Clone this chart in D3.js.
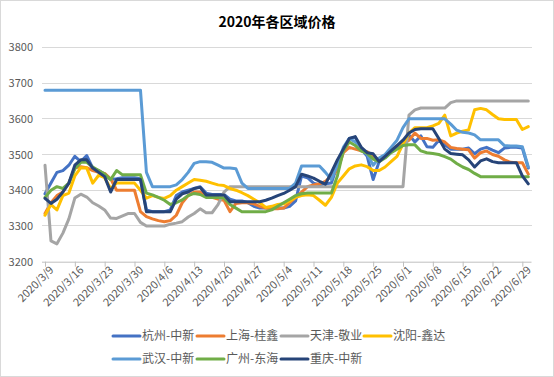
<!DOCTYPE html>
<html><head><meta charset="utf-8">
<script src="https://cdn.jsdelivr.net/npm/d3@7"></script>
<style>
html,body{margin:0;padding:0;background:#fff;}
svg{display:block;font-family:"Noto Sans CJK SC","Noto Sans",sans-serif;}
</style></head>
<body><svg id="c" width="554" height="377"></svg>
<script>
// ---- data ----
const title = "2020年各区域价格";
const startDate = "2020-03-09", endDate = "2020-06-30"; // weekday categories
const yTicks = [3200, 3300, 3400, 3500, 3600, 3700, 3800];
const seriesNames = ["杭州-中新","上海-桂鑫","天津-敬业","沈阳-鑫达","武汉-中新","广州-东海","重庆-中新"];
const seriesColors = ["#4472C4","#ED7D31","#A5A5A5","#FFC000","#5B9BD5","#70AD47","#264478"];

const hangzhou = [3390,3420,3450,3455,3470, 3495,3480,3497,3462,3455, 3445,3430,3432,3435,3435,
  3435,3432,3345,3340,3340, 3340,3345,3385,3395,3400, 3405,3410,3392,3388,3388, 3388,3375,3370,3370,3365,
  3355,3350,3350,3350,3350, 3350,3355,3370,3440,3435, 3420,3415,3418,3420,3470, 3510,3545,3548,3515,3495,
  3430,3480,3495,3510,3520, 3525,3555,3535,3552,3522, 3520,3540,3527,3515,3515, 3515,3518,3502,3515,3520,
  3512,3505,3518,3520,3520, 3518,3462];
const shanghai = [3335,3365,3385,3395,3420, 3462,3466,3463,3455,3450, 3447,3432,3400,3400,3400,
  3400,3340,3326,3320,3315, 3312,3315,3330,3365,3385, 3395,3395,3385,3380,3375, 3372,3340,3363,3365,3365,
  3362,3355,3350,3348,3348, 3350,3365,3380,3395,3410, 3415,3418,3425,3440,3455, 3505,3520,3515,3510,3508,
  3495,3485,3495,3510,3525, 3530,3540,3560,3545,3545, 3540,3541,3535,3520,3517, 3515,3513,3490,3505,3510,
  3500,3495,3485,3478,3477, 3477,3445];
const tianjin = [3470,3258,3250,3280,3320, 3378,3389,3381,3365,3356, 3345,3322,3321,3328,3335,
  3335,3310,3300,3300,3300, 3300,3305,3308,3312,3325, 3335,3348,3337,3337,3360, 3395,3410,3410,3410,3410,
  3410,3410,3410,3410,3410, 3410,3410,3410,3410,3410, 3410,3410,3410,3410,3410, 3410,3410,3410,3410,3410,
  3410,3410,3410,3410,3410, 3410,3610,3625,3630,3630, 3630,3630,3630,3645,3650, 3650,3650,3650,3650,3650,
  3650,3650,3650,3650,3650, 3650,3650];
const shenyang = [3330,3360,3345,3385,3392, 3440,3463,3462,3420,3442, 3435,3405,3420,3420,3420,
  3420,3400,3378,3385,3380, 3377,3385,3400,3410,3420, 3430,3428,3425,3420,3415, 3413,3405,3400,3393,3385,
  3375,3365,3352,3355,3360, 3362,3370,3380,3385,3387, 3385,3372,3358,3380,3420, 3440,3460,3468,3471,3466,
  3455,3455,3465,3480,3495, 3530,3560,3575,3575,3575, 3580,3587,3610,3552,3560, 3565,3569,3625,3629,3625,
  3612,3600,3598,3598,3598, 3570,3578];
const wuhan = [3680,3680,3680,3680,3680, 3680,3680,3680,3680,3680, 3680,3680,3680,3680,3680,
  3680,3680,3450,3410,3410, 3410,3410,3415,3430,3450, 3475,3480,3480,3478,3470, 3462,3462,3460,3420,3405,
  3405,3405,3405,3405,3405, 3405,3405,3420,3468,3468, 3468,3468,3450,3430,3470, 3520,3545,3535,3520,3500,
  3470,3490,3500,3520,3540, 3575,3600,3600,3600,3600, 3600,3600,3600,3585,3568, 3562,3560,3555,3541,3541,
  3541,3541,3525,3524,3524, 3522,3465];
const guangzhou = [3380,3400,3410,3405,3420, 3460,3478,3478,3465,3455, 3445,3430,3455,3443,3443,
  3443,3443,3392,3387,3380, 3372,3360,3365,3373,3385, 3391,3388,3380,3380,3380, 3378,3360,3350,3340,3340,
  3340,3340,3340,3345,3355, 3365,3375,3385,3390,3392, 3392,3392,3392,3392,3440, 3510,3535,3525,3510,3503,
  3487,3480,3490,3505,3515, 3525,3527,3527,3510,3505, 3503,3500,3494,3487,3475, 3465,3458,3447,3438,3438,
  3438,3438,3438,3438,3438, 3438,3438];
const chongqing = [3377,3363,3375,3395,3420, 3470,3485,3485,3462,3450, 3438,3395,3430,3430,3430,
  3430,3430,3340,3340,3340, 3340,3340,3375,3390,3395, 3405,3408,3387,3387,3387, 3387,3368,3368,3368,3368,
  3368,3368,3372,3378,3385, 3391,3400,3410,3445,3440, 3434,3425,3417,3450,3485, 3515,3545,3550,3520,3505,
  3502,3480,3495,3510,3525, 3540,3560,3570,3572,3572, 3572,3545,3515,3503,3501, 3499,3485,3465,3482,3488,
  3480,3477,3477,3477,3477, 3440,3418];
const seriesValues = [hangzhou, shanghai, tianjin, shenyang, wuhan, guangzhou, chongqing];

// weekday categories
const categories = [];
{
  const d = new Date(startDate + "T00:00:00"), e = new Date(endDate + "T00:00:00");
  while (d <= e) {
    const wd = d.getDay();
    if (wd !== 0 && wd !== 6) categories.push(`${d.getFullYear()}/${d.getMonth()+1}/${d.getDate()}`);
    d.setDate(d.getDate() + 1);
  }
}
const labelEvery = 5;

// ---- chart ----
const svg = d3.select("#c");
svg.append("rect").attr("x",0.5).attr("y",0.5).attr("width",553).attr("height",376)
  .attr("fill","#fff").attr("stroke","#D9D9D9");

const x = d3.scalePoint().domain(categories).range([45, 528.3]);
const y = d3.scaleLinear().domain([3200, 3800]).range([261.7, 47.3]);
const plotL = 42, plotR = 531.5;

svg.append("text").attr("x", 277).attr("y", 27).attr("text-anchor","middle")
  .attr("font-size", 14).attr("font-weight","bold").attr("fill","#000").text(title);

// gridlines
svg.append("g").selectAll("line").data(yTicks.filter(t => t !== 3200)).join("line")
  .attr("x1", plotL).attr("x2", plotR).attr("y1", d => y(d)).attr("y2", d => y(d))
  .attr("stroke","#D9D9D9").attr("stroke-width",1).attr("shape-rendering","crispEdges");

// y axis labels
const yAxis = d3.axisLeft(y).tickValues(yTicks).tickSize(0).tickPadding(0).tickFormat(d3.format("d"));
const yg = svg.append("g").attr("transform", `translate(33,0)`).call(yAxis);
yg.select(".domain").remove();
yg.selectAll("text").attr("font-size", 11).attr("fill","#595959")
  .attr("font-family","'Noto Sans CJK SC','Noto Sans',sans-serif");

// x axis
const labelCats = categories.filter((c, i) => i % labelEvery === 0);
const xAxis = d3.axisBottom(x).tickValues(labelCats).tickSize(5).tickPadding(2).tickSizeOuter(0);
const xg = svg.append("g").attr("transform", `translate(0,${y(3200)})`).call(xAxis);
xg.select(".domain").attr("d", `M${plotL},0.5H${plotR}`).attr("stroke","#BFBFBF");
xg.selectAll(".tick line").attr("stroke","#BFBFBF");
xg.selectAll("text").attr("font-size", 11).attr("fill","#595959")
  .attr("font-family","'Noto Sans CJK SC','Noto Sans',sans-serif")
  .attr("text-anchor","end").attr("dy", 0)
  .attr("transform","translate(4,4) rotate(-45)");

// lines
const line = d3.line().x((d, i) => x(categories[i])).y(d => y(d)).curve(d3.curveLinear);
svg.append("g").selectAll("path").data(seriesValues).join("path")
  .attr("d", d => line(d)).attr("fill","none")
  .attr("stroke", (d, i) => seriesColors[i]).attr("stroke-width", 3)
  .attr("stroke-linejoin","round").attr("stroke-linecap","round");

// legend
const legendPos = [[113,336],[197,336],[281,336],[364,336],[113,359],[197,359],[281,359]];
const lg = svg.append("g");
seriesNames.forEach((n, i) => {
  const [lx, ly] = legendPos[i];
  lg.append("line").attr("x1", lx).attr("x2", lx + 27).attr("y1", ly).attr("y2", ly)
    .attr("stroke", seriesColors[i]).attr("stroke-width", 3).attr("stroke-linecap","round");
  lg.append("text").attr("x", lx + 29).attr("y", ly).attr("dy","0.35em")
    .attr("font-size", 12).attr("fill","#595959").text(n);
});
</script></body></html>
